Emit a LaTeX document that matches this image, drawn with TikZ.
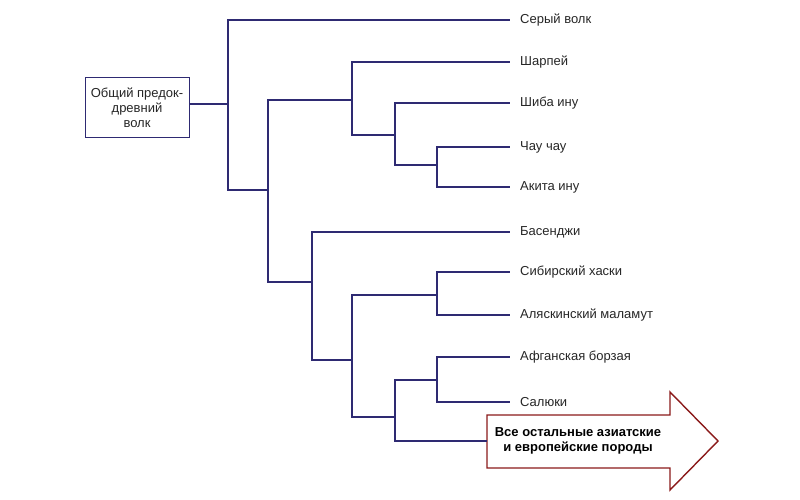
\documentclass[tikz,border=0pt]{standalone}
\usepackage{fontspec}
\setmainfont{Liberation Sans}
\definecolor{ln}{HTML}{2E2A72}
\definecolor{ar}{HTML}{8B1A1A}
\begin{document}
\begin{tikzpicture}[x=1pt,y=-1pt,
  br/.style={draw=ln,line width=1.4pt},
  lf/.style={anchor=west,font=\fontsize{13}{15}\selectfont,text=black!85,inner sep=0pt,xshift=10pt}]
\useasboundingbox (0,0) rectangle (800,500);
\node[draw=ln,line width=1pt,fill=white,minimum width=104pt,minimum height=60pt,align=center,font=\fontsize{13}{15}\selectfont,text=black!85] (root) at (137,108) {Общий предок-\\древний\\волк};
% junctions
\coordinate (j1) at (228,104);
\coordinate (j2) at (268,190);
\coordinate (j3) at (352,100);
\coordinate (j4) at (395,135);
\coordinate (j5) at (437,165);
\coordinate (j6) at (312,282);
\coordinate (j7) at (352,360);
\coordinate (j8) at (437,295);
\coordinate (j9) at (395,417);
\coordinate (j10) at (437,380);
% leaves
\coordinate (l1) at (510,20);  \node[lf] (t1) at (l1) {Серый волк};
\coordinate (l2) at (510,62);  \node[lf] (t2) at (l2) {Шарпей};
\coordinate (l3) at (510,103); \node[lf] (t3) at (l3) {Шиба ину};
\coordinate (l4) at (510,147); \node[lf] (t4) at (l4) {Чау чау};
\coordinate (l5) at (510,187); \node[lf] (t5) at (l5) {Акита ину};
\coordinate (l6) at (510,232); \node[lf] (t6) at (l6) {Басенджи};
\coordinate (l7) at (510,272); \node[lf] (t7) at (l7) {Сибирский хаски};
\coordinate (l8) at (510,315); \node[lf] (t8) at (l8) {Аляскинский маламут};
\coordinate (l9) at (510,357); \node[lf] (t9) at (l9) {Афганская борзая};
\coordinate (l10) at (510,402);\node[lf] (t10) at (l10) {Салюки};
% arrow
\coordinate (arrtail) at (487,441);
\draw[ar,line width=1.4pt,fill=white,line join=miter] (487,415) -- (670,415) -- (670,392) -- (718,441) -- (670,490) -- (670,468) -- (487,468) -- cycle;
\node[font=\fontsize{13}{15}\selectfont\bfseries,align=center,text=black] (at) at (578,441) {Все остальные азиатские\\и европейские породы};
% branches
\draw[br] (root.east |- j1) -- (j1);
\draw[br] (j1) |- (l1); \draw[br] (j1) |- (j2);
\draw[br] (j2) |- (j3); \draw[br] (j2) |- (j6);
\draw[br] (j3) |- (l2); \draw[br] (j3) |- (j4);
\draw[br] (j4) |- (l3); \draw[br] (j4) |- (j5);
\draw[br] (j5) |- (l4); \draw[br] (j5) |- (l5);
\draw[br] (j6) |- (l6); \draw[br] (j6) |- (j7);
\draw[br] (j7) |- (j8); \draw[br] (j7) |- (j9);
\draw[br] (j8) |- (l7); \draw[br] (j8) |- (l8);
\draw[br] (j9) |- (j10); \draw[br] (j9) |- (arrtail);
\draw[br] (j10) |- (l9); \draw[br] (j10) |- (l10);
\end{tikzpicture}
\end{document}
